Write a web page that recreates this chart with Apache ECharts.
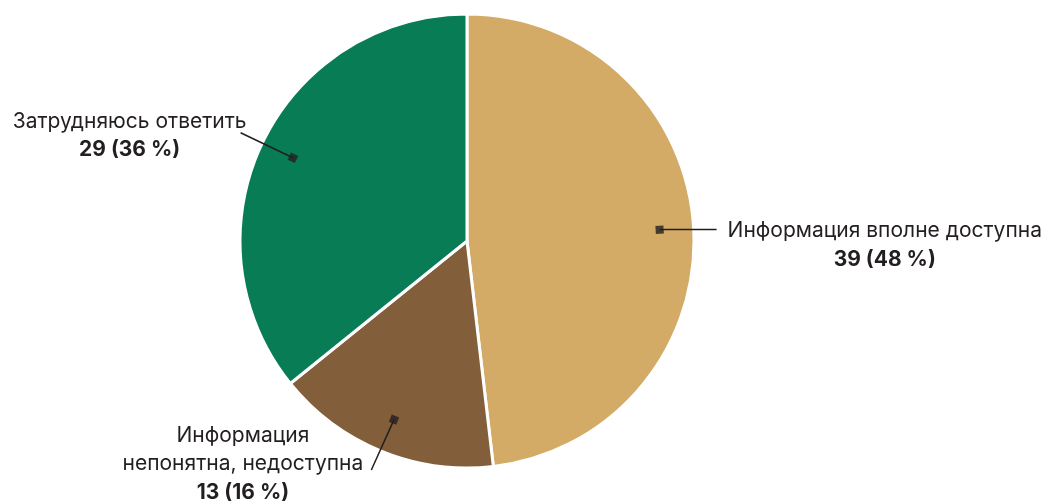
<!DOCTYPE html>
<html><head><meta charset="utf-8">
<script src="https://cdn.jsdelivr.net/npm/echarts@6/dist/echarts.min.js"></script>
<style>html,body{margin:0;padding:0;background:#fff}#c{width:1055px;height:504px}</style>
</head><body><div id="c"></div>
<script>
const categories = ['Информация вполне доступна', 'Информация\nнепонятна, недоступна', 'Затрудняюсь ответить'];
const values = [39, 13, 29];
const colors = ['#D3AB66', '#825E3B', '#087C55'];

const total = values.reduce((a, b) => a + b, 0);
const mids = [];
let acc = 0;
values.forEach(v => { mids.push(acc + v / 2); acc += v; });

const center = [467, 241];
const R = 227;
const markerR = 0.85;

// per-slice label placement (styling only)
const labelStyle = [
  { line: { length: 6, length2: 51 }, label: { distanceToLabelLine: 11, padding: [32, 0, 0, 0] } },
  { line: { length: 60, length2: 0 }, label: { distanceToLabelLine: 8, padding: [0, 0, 12, 0] } },
  { line: { length: 58, length2: 0 }, label: { distanceToLabelLine: -6, padding: [6, 0, 0, 0] } }
];

const chart = echarts.init(document.getElementById('c'));
const font = 'Inter, "Noto Sans", sans-serif';
chart.setOption({
  animation: false,
  polar: { center: center, radius: R },
  angleAxis: { type: 'value', min: 0, max: total, startAngle: 90, clockwise: true, show: false },
  radiusAxis: { type: 'value', min: 0, max: 1, show: false },
  series: [
    {
      type: 'pie', center: center, radius: [0, R], startAngle: 90, clockwise: true,
      silent: true, z: 1,
      label: { show: false }, labelLine: { show: false },
      itemStyle: { borderColor: '#fff', borderWidth: 3 },
      data: categories.map((c, i) => ({ name: c, value: values[i], itemStyle: { color: colors[i] } }))
    },
    {
      type: 'pie', center: center, radius: [0, R * markerR], startAngle: 90, clockwise: true,
      silent: true, z: 3, percentPrecision: 0,
      itemStyle: { color: 'rgba(0,0,0,0)', borderWidth: 0 },
      label: {
        show: true, position: 'outside', overflow: 'none',
        formatter: p => p.name.split('\n').map(s => '{n|' + s + '}').join('\n') + '\n{v|' + p.value + ' (' + p.percent + ' %)}',
        rich: {
          n: { fontFamily: font, fontSize: 21, color: '#231f20', lineHeight: 28.5, align: 'center' },
          v: { fontFamily: font, fontSize: 21, fontWeight: 'bold', color: '#231f20', lineHeight: 28.5, align: 'center' }
        }
      },
      labelLine: { show: true, lineStyle: { color: '#231f20', width: 1.5 } },
      data: categories.map((c, i) => ({
        name: c, value: values[i],
        label: labelStyle[i].label,
        labelLine: labelStyle[i].line
      }))
    },
    {
      type: 'scatter', coordinateSystem: 'polar', z: 5, silent: true,
      symbol: 'rect', symbolSize: 8,
      itemStyle: { color: '#231f20' },
      data: mids.map(m => ({ value: [markerR, m], symbolRotate: 90 - m / total * 360 }))
    }
  ]
});
</script></body></html>
